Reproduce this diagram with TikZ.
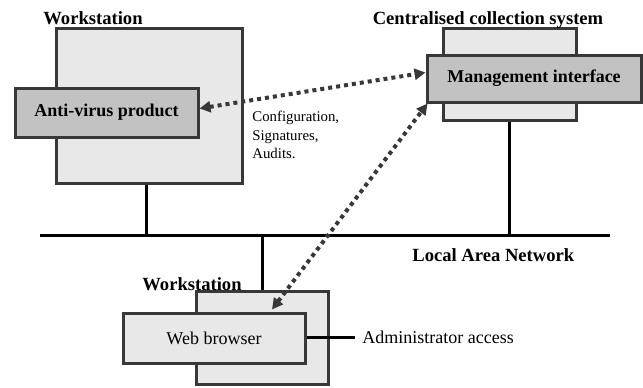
\documentclass[tikz,border=0pt]{standalone}
\usepackage{fontspec}
\setmainfont{Liberation Serif}
\usetikzlibrary{arrows.meta,positioning}
\definecolor{edgegray}{gray}{0.22}
\definecolor{lightfill}{gray}{0.91}
\definecolor{midfill}{gray}{0.76}
\begin{document}
\begin{tikzpicture}[
  x=0.5pt, y=-0.5pt,
  outer/.style={draw=edgegray,line width=1.5pt,fill=lightfill,inner sep=0pt},
  inner/.style={draw=edgegray,line width=1.5pt,fill=midfill,inner sep=0pt,font=\fontsize{9}{10}\selectfont\bfseries},
  plain/.style={draw=edgegray,line width=1.5pt,fill=lightfill,inner sep=0pt,font=\fontsize{9}{10}\selectfont},
  ttl/.style={font=\fontsize{9.3}{10}\selectfont\bfseries,inner sep=0pt},
  wire/.style={line width=1.5pt},
  dots/.style={line width=2pt,edgegray,dash pattern=on 2pt off 2pt,
    {Triangle[length=5.5pt,width=5.5pt]}-{Triangle[length=5.5pt,width=5.5pt]}}]
  \useasboundingbox (0,0) rectangle (643,387);
  \node[outer,minimum width=93pt,minimum height=77.5pt] (ws1) at (149,105.5) {};
  \node[inner,minimum width=91.5pt,minimum height=24.5pt] (av) at (106.5,112.5) {Anti-virus product};
  \node[outer,minimum width=66.5pt,minimum height=46pt] (ccs) at (509.5,74) {};
  \node[inner,minimum width=107pt,minimum height=23.5pt] (mi) at (534,78.5) {Management interface};
  \node[outer,minimum width=66pt,minimum height=46.5pt] (ws2) at (262,337.5) {};
  \node[plain,minimum width=91pt,minimum height=25pt] (wb) at (214,338) {Web browser};
  \node[ttl,anchor=base west] (ws1lbl) at (43,24) {Workstation};
  \node[ttl,anchor=base] (ccslbl) at (488,24) {Centralised collection system};
  \node[ttl,anchor=base west] (ws2lbl) at (142,290) {Workstation};
  \node[ttl,anchor=base west] (lanlbl) at (412,261) {Local Area Network};
  \node[font=\fontsize{7.4}{9.2}\selectfont,align=left,anchor=north west,inner sep=0pt] (data) at (252,111) {Configuration,\\Signatures,\\Audits.};
  \coordinate (lanL) at (40,235);
  \coordinate (lanR) at (610,235);
  \coordinate (adm) at (355,337);
  \node[font=\fontsize{9}{10}\selectfont,anchor=west,inner sep=0pt] (admlbl) at (362,337) {Administrator access};
  \draw[wire] (lanL) -- (lanR);
  \draw[wire] ([xshift=-1.5pt]ws1.south) -- ([xshift=-1.5pt]ws1.south |- lanL);
  \draw[wire] (ccs.south) -- (ccs.south |- lanL);
  \draw[wire] (ws2.north) -- (ws2.north |- lanL);
  \draw[wire] (wb.east |- adm) -- (adm);
  \draw[dots] ([yshift=2pt]av.east) -- ([yshift=3pt]mi.west);
  \draw[dots] ([xshift=29pt,yshift=1pt]wb.north) -- ([xshift=1pt]mi.south west);
\end{tikzpicture}
\end{document}
